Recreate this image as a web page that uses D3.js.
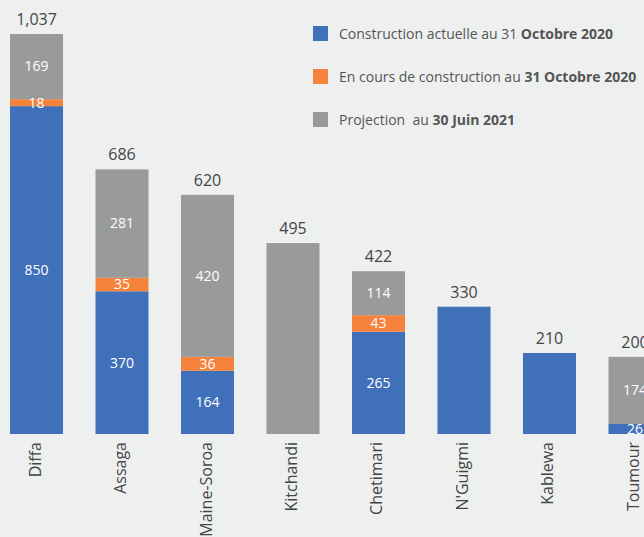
<!DOCTYPE html>
<html>
<head>
<meta charset="utf-8">
<script src="https://cdn.jsdelivr.net/npm/d3@7"></script>
<style>
  body { margin: 0; background: #eef0ef; }
  svg { display: block; font-family: "Open Sans", "Noto Sans", sans-serif; }
</style>
</head>
<body>
<div id="chart"></div>
<script>
// Data
const categories = ["Diffa", "Assaga", "Maine-Soroa", "Kitchandi", "Chetimari", "N'Guigmi", "Kablewa", "Toumour"];
const actuelle = [850, 370, 164, 0, 265, 330, 210, 26];
const enCours = [18, 35, 36, 0, 43, 0, 0, 0];
const projection = [169, 281, 420, 495, 114, 0, 0, 174];
const seriesNames = ["actuelle", "enCours", "projection"];
const seriesColors = ["#3f70b9", "#f5833c", "#999b9b"];
const legendLabels = [
    ["Construction actuelle au 31 ", "Octobre 2020"],
    ["En cours de construction au ", "31 Octobre 2020"],
    ["Projection  au ", "30 Juin 2021"]
];

const width = 644, height = 537;
const baseY = 434;

const svg = d3.select("#chart").append("svg")
    .attr("width", width)
    .attr("height", height);

const rows = categories.map((c, i) => ({
    cat: c,
    actuelle: actuelle[i],
    enCours: enCours[i],
    projection: projection[i],
    total: actuelle[i] + enCours[i] + projection[i]
}));

const x = d3.scaleBand()
    .domain(categories)
    .range([10, 661.5])
    .paddingInner(0.38)
    .paddingOuter(0);

const y = d3.scaleLinear()
    .domain([0, 1037])
    .range([baseY, 34]);

const stack = d3.stack().keys(seriesNames);
const layers = stack(rows);

// Bars
const layerG = svg.selectAll(".layer")
    .data(layers)
    .enter()
    .append("g")
    .attr("fill", (d, i) => seriesColors[i]);

layerG.selectAll("rect")
    .data(d => d)
    .enter()
    .append("rect")
    .attr("x", d => x(d.data.cat))
    .attr("y", d => y(d[1]))
    .attr("width", x.bandwidth())
    .attr("height", d => y(d[0]) - y(d[1]));

// Segment labels, only for bars with more than one part
layers.forEach(layer => {
    svg.selectAll(null)
        .data(layer.filter(d => {
            const v = d[1] - d[0];
            const parts = seriesNames.filter(k => d.data[k] > 0).length;
            return v > 0 && parts > 1;
        }))
        .enter()
        .append("text")
        .attr("x", d => x(d.data.cat) + x.bandwidth() / 2)
        .attr("y", d => (y(d[0]) + y(d[1])) / 2)
        .attr("dy", "0.35em")
        .attr("text-anchor", "middle")
        .attr("fill", "#fff")
        .style("font-size", "14px")
        .text(d => d[1] - d[0]);
});

// Totals
svg.selectAll(".total")
    .data(rows)
    .enter()
    .append("text")
    .attr("class", "total")
    .attr("x", d => x(d.cat) + x.bandwidth() / 2)
    .attr("y", d => y(d.total) - 9)
    .attr("text-anchor", "middle")
    .attr("fill", "#444")
    .style("font-size", "16px")
    .text(d => d3.format(",")(d.total));

// Category labels
svg.selectAll(".cat")
    .data(categories)
    .enter()
    .append("text")
    .attr("class", "cat")
    .attr("transform", d => `translate(${x(d) + x.bandwidth() / 2 + 4},${baseY + 8}) rotate(-90)`)
    .attr("text-anchor", "end")
    .attr("fill", "#444")
    .style("font-size", "16px")
    .text(d => d);

// Legend
const legend = svg.selectAll(".legend")
    .data(legendLabels)
    .enter()
    .append("g")
    .attr("transform", (d, i) => `translate(313,${26 + i * 43})`);

legend.append("rect")
    .attr("width", 15)
    .attr("height", 15)
    .attr("fill", (d, i) => seriesColors[i]);

const lt = legend.append("text")
    .attr("x", 26)
    .attr("y", 12.5)
    .attr("fill", "#555")
    .style("font-size", "14px")
    .style("white-space", "pre");
lt.append("tspan").text(d => d[0]);
lt.append("tspan").style("font-weight", "bold").text(d => d[1]);
</script>
</body>
</html>
